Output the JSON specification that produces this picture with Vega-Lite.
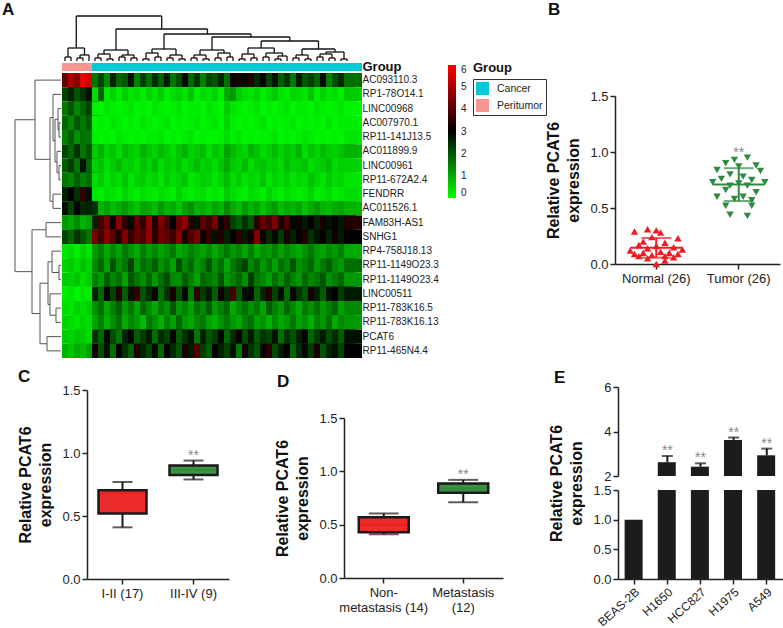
{
"$schema":"https://vega.github.io/schema/vega-lite/v6.json",
"background":"white",
"padding":{"left":2,"top":1,"right":0,"bottom":0},
"config":{
 "font":"Liberation Sans",
 "view":{"stroke":null},
 "axis":{"domainColor":"#222","domainWidth":1.5,"tickColor":"#222","tickWidth":1.5,"tickSize":5,"labelColor":"#222","labelFontSize":13,"titleColor":"#111","titleFontSize":16,"titleFontWeight":"bold","grid":false,"labelFont":"Liberation Sans","titleFont":"Liberation Sans"},
 "title":{"anchor":"start","frame":"group","offset":0,"baseline":"alphabetic","fontSize":17,"fontWeight":"bold","color":"#111"}
},
"datasets":{
"heat":[
{"g":0,"c":0,"v":4.2},{"g":0,"c":1,"v":5.0},{"g":0,"c":2,"v":4.6},{"g":0,"c":3,"v":5.8},{"g":0,"c":4,"v":5.5},{"g":0,"c":5,"v":1.6},{"g":0,"c":6,"v":2.2},{"g":0,"c":7,"v":1.4},{"g":0,"c":8,"v":2.6},{"g":0,"c":9,"v":1.8},{"g":0,"c":10,"v":2.0},{"g":0,"c":11,"v":2.8},{"g":0,"c":12,"v":1.5},{"g":0,"c":13,"v":2.3},{"g":0,"c":14,"v":1.7},{"g":0,"c":15,"v":2.5},{"g":0,"c":16,"v":1.9},{"g":0,"c":17,"v":2.7},{"g":0,"c":18,"v":1.6},{"g":0,"c":19,"v":2.1},{"g":0,"c":20,"v":2.9},{"g":0,"c":21,"v":1.8},{"g":0,"c":22,"v":2.4},{"g":0,"c":23,"v":1.5},{"g":0,"c":24,"v":2.2},{"g":0,"c":25,"v":2.0},{"g":0,"c":26,"v":2.6},{"g":0,"c":27,"v":1.7},{"g":0,"c":28,"v":3.1},{"g":0,"c":29,"v":3.3},{"g":0,"c":30,"v":2.9},{"g":0,"c":31,"v":3.4},{"g":0,"c":32,"v":2.5},{"g":0,"c":33,"v":3.0},{"g":0,"c":34,"v":2.2},{"g":0,"c":35,"v":2.8},{"g":0,"c":36,"v":1.9},{"g":0,"c":37,"v":2.4},{"g":0,"c":38,"v":1.6},{"g":0,"c":39,"v":2.7},{"g":0,"c":40,"v":2.0},{"g":0,"c":41,"v":2.3},{"g":0,"c":42,"v":1.8},{"g":0,"c":43,"v":2.9},{"g":0,"c":44,"v":1.5},{"g":0,"c":45,"v":2.1},{"g":0,"c":46,"v":2.5},{"g":0,"c":47,"v":1.7},
{"g":1,"c":0,"v":2.2},{"g":1,"c":1,"v":2.6},{"g":1,"c":2,"v":2.0},{"g":1,"c":3,"v":2.4},{"g":1,"c":4,"v":2.8},{"g":1,"c":5,"v":0.4},{"g":1,"c":6,"v":1.8},{"g":1,"c":7,"v":0.3},{"g":1,"c":8,"v":0.5},{"g":1,"c":9,"v":0.2},{"g":1,"c":10,"v":0.6},{"g":1,"c":11,"v":0.3},{"g":1,"c":12,"v":0.4},{"g":1,"c":13,"v":0.2},{"g":1,"c":14,"v":0.5},{"g":1,"c":15,"v":0.3},{"g":1,"c":16,"v":0.6},{"g":1,"c":17,"v":0.2},{"g":1,"c":18,"v":0.4},{"g":1,"c":19,"v":0.5},{"g":1,"c":20,"v":0.3},{"g":1,"c":21,"v":0.7},{"g":1,"c":22,"v":0.2},{"g":1,"c":23,"v":0.4},{"g":1,"c":24,"v":0.3},{"g":1,"c":25,"v":0.5},{"g":1,"c":26,"v":0.2},{"g":1,"c":27,"v":1.0},{"g":1,"c":28,"v":1.2},{"g":1,"c":29,"v":0.6},{"g":1,"c":30,"v":0.4},{"g":1,"c":31,"v":0.3},{"g":1,"c":32,"v":0.5},{"g":1,"c":33,"v":0.2},{"g":1,"c":34,"v":0.4},{"g":1,"c":35,"v":0.6},{"g":1,"c":36,"v":0.3},{"g":1,"c":37,"v":0.2},{"g":1,"c":38,"v":0.5},{"g":1,"c":39,"v":0.4},{"g":1,"c":40,"v":0.3},{"g":1,"c":41,"v":0.7},{"g":1,"c":42,"v":0.2},{"g":1,"c":43,"v":0.5},{"g":1,"c":44,"v":0.3},{"g":1,"c":45,"v":0.4},{"g":1,"c":46,"v":0.2},{"g":1,"c":47,"v":0.6},
{"g":2,"c":0,"v":1.6},{"g":2,"c":1,"v":2.0},{"g":2,"c":2,"v":1.4},{"g":2,"c":3,"v":1.8},{"g":2,"c":4,"v":2.2},{"g":2,"c":5,"v":0.2},{"g":2,"c":6,"v":0.1},{"g":2,"c":7,"v":0.3},{"g":2,"c":8,"v":0.2},{"g":2,"c":9,"v":0.1},{"g":2,"c":10,"v":0.2},{"g":2,"c":11,"v":0.3},{"g":2,"c":12,"v":0.1},{"g":2,"c":13,"v":0.2},{"g":2,"c":14,"v":0.1},{"g":2,"c":15,"v":0.3},{"g":2,"c":16,"v":0.2},{"g":2,"c":17,"v":0.1},{"g":2,"c":18,"v":0.2},{"g":2,"c":19,"v":0.3},{"g":2,"c":20,"v":0.1},{"g":2,"c":21,"v":0.2},{"g":2,"c":22,"v":0.2},{"g":2,"c":23,"v":0.1},{"g":2,"c":24,"v":0.3},{"g":2,"c":25,"v":0.2},{"g":2,"c":26,"v":0.1},{"g":2,"c":27,"v":0.6},{"g":2,"c":28,"v":0.3},{"g":2,"c":29,"v":0.2},{"g":2,"c":30,"v":0.1},{"g":2,"c":31,"v":0.2},{"g":2,"c":32,"v":0.3},{"g":2,"c":33,"v":0.1},{"g":2,"c":34,"v":0.2},{"g":2,"c":35,"v":0.1},{"g":2,"c":36,"v":0.2},{"g":2,"c":37,"v":0.3},{"g":2,"c":38,"v":0.1},{"g":2,"c":39,"v":0.2},{"g":2,"c":40,"v":0.2},{"g":2,"c":41,"v":0.1},{"g":2,"c":42,"v":0.3},{"g":2,"c":43,"v":0.2},{"g":2,"c":44,"v":0.1},{"g":2,"c":45,"v":0.2},{"g":2,"c":46,"v":0.3},{"g":2,"c":47,"v":0.1},
{"g":3,"c":0,"v":1.8},{"g":3,"c":1,"v":1.4},{"g":3,"c":2,"v":2.0},{"g":3,"c":3,"v":1.6},{"g":3,"c":4,"v":1.9},{"g":3,"c":5,"v":0.1},{"g":3,"c":6,"v":0.2},{"g":3,"c":7,"v":0.1},{"g":3,"c":8,"v":0.3},{"g":3,"c":9,"v":0.2},{"g":3,"c":10,"v":0.1},{"g":3,"c":11,"v":0.2},{"g":3,"c":12,"v":0.1},{"g":3,"c":13,"v":0.3},{"g":3,"c":14,"v":0.2},{"g":3,"c":15,"v":0.1},{"g":3,"c":16,"v":0.2},{"g":3,"c":17,"v":0.3},{"g":3,"c":18,"v":0.1},{"g":3,"c":19,"v":0.2},{"g":3,"c":20,"v":0.1},{"g":3,"c":21,"v":0.2},{"g":3,"c":22,"v":0.3},{"g":3,"c":23,"v":0.1},{"g":3,"c":24,"v":0.2},{"g":3,"c":25,"v":0.3},{"g":3,"c":26,"v":0.1},{"g":3,"c":27,"v":0.5},{"g":3,"c":28,"v":0.2},{"g":3,"c":29,"v":0.1},{"g":3,"c":30,"v":0.2},{"g":3,"c":31,"v":0.1},{"g":3,"c":32,"v":0.2},{"g":3,"c":33,"v":0.3},{"g":3,"c":34,"v":0.1},{"g":3,"c":35,"v":0.2},{"g":3,"c":36,"v":0.1},{"g":3,"c":37,"v":0.2},{"g":3,"c":38,"v":0.3},{"g":3,"c":39,"v":0.1},{"g":3,"c":40,"v":0.2},{"g":3,"c":41,"v":0.1},{"g":3,"c":42,"v":0.2},{"g":3,"c":43,"v":0.1},{"g":3,"c":44,"v":0.3},{"g":3,"c":45,"v":0.1},{"g":3,"c":46,"v":0.2},{"g":3,"c":47,"v":0.2},
{"g":4,"c":0,"v":1.5},{"g":4,"c":1,"v":1.9},{"g":4,"c":2,"v":1.3},{"g":4,"c":3,"v":1.7},{"g":4,"c":4,"v":1.6},{"g":4,"c":5,"v":0.2},{"g":4,"c":6,"v":0.1},{"g":4,"c":7,"v":0.2},{"g":4,"c":8,"v":0.1},{"g":4,"c":9,"v":0.3},{"g":4,"c":10,"v":0.2},{"g":4,"c":11,"v":0.1},{"g":4,"c":12,"v":0.2},{"g":4,"c":13,"v":0.1},{"g":4,"c":14,"v":0.2},{"g":4,"c":15,"v":0.2},{"g":4,"c":16,"v":0.3},{"g":4,"c":17,"v":0.1},{"g":4,"c":18,"v":0.2},{"g":4,"c":19,"v":0.1},{"g":4,"c":20,"v":0.2},{"g":4,"c":21,"v":0.3},{"g":4,"c":22,"v":0.1},{"g":4,"c":23,"v":0.2},{"g":4,"c":24,"v":0.1},{"g":4,"c":25,"v":0.1},{"g":4,"c":26,"v":0.2},{"g":4,"c":27,"v":0.4},{"g":4,"c":28,"v":0.2},{"g":4,"c":29,"v":0.3},{"g":4,"c":30,"v":0.1},{"g":4,"c":31,"v":0.2},{"g":4,"c":32,"v":0.1},{"g":4,"c":33,"v":0.2},{"g":4,"c":34,"v":0.2},{"g":4,"c":35,"v":0.3},{"g":4,"c":36,"v":0.1},{"g":4,"c":37,"v":0.2},{"g":4,"c":38,"v":0.1},{"g":4,"c":39,"v":0.2},{"g":4,"c":40,"v":0.3},{"g":4,"c":41,"v":0.2},{"g":4,"c":42,"v":0.1},{"g":4,"c":43,"v":0.2},{"g":4,"c":44,"v":0.1},{"g":4,"c":45,"v":0.2},{"g":4,"c":46,"v":0.1},{"g":4,"c":47,"v":0.3},
{"g":5,"c":0,"v":2.2},{"g":5,"c":1,"v":1.8},{"g":5,"c":2,"v":2.4},{"g":5,"c":3,"v":1.6},{"g":5,"c":4,"v":2.0},{"g":5,"c":5,"v":0.6},{"g":5,"c":6,"v":0.9},{"g":5,"c":7,"v":0.5},{"g":5,"c":8,"v":0.7},{"g":5,"c":9,"v":0.4},{"g":5,"c":10,"v":0.8},{"g":5,"c":11,"v":0.6},{"g":5,"c":12,"v":0.5},{"g":5,"c":13,"v":0.9},{"g":5,"c":14,"v":0.7},{"g":5,"c":15,"v":0.5},{"g":5,"c":16,"v":0.8},{"g":5,"c":17,"v":0.6},{"g":5,"c":18,"v":0.4},{"g":5,"c":19,"v":0.7},{"g":5,"c":20,"v":0.9},{"g":5,"c":21,"v":0.5},{"g":5,"c":22,"v":0.6},{"g":5,"c":23,"v":0.8},{"g":5,"c":24,"v":0.4},{"g":5,"c":25,"v":0.7},{"g":5,"c":26,"v":0.5},{"g":5,"c":27,"v":1.1},{"g":5,"c":28,"v":0.8},{"g":5,"c":29,"v":0.6},{"g":5,"c":30,"v":0.5},{"g":5,"c":31,"v":0.9},{"g":5,"c":32,"v":0.7},{"g":5,"c":33,"v":0.4},{"g":5,"c":34,"v":0.6},{"g":5,"c":35,"v":0.8},{"g":5,"c":36,"v":0.5},{"g":5,"c":37,"v":0.7},{"g":5,"c":38,"v":0.6},{"g":5,"c":39,"v":0.9},{"g":5,"c":40,"v":0.4},{"g":5,"c":41,"v":0.7},{"g":5,"c":42,"v":0.5},{"g":5,"c":43,"v":0.8},{"g":5,"c":44,"v":0.6},{"g":5,"c":45,"v":0.5},{"g":5,"c":46,"v":0.7},{"g":5,"c":47,"v":0.9},
{"g":6,"c":0,"v":1.9},{"g":6,"c":1,"v":2.3},{"g":6,"c":2,"v":1.6},{"g":6,"c":3,"v":2.8},{"g":6,"c":4,"v":1.8},{"g":6,"c":5,"v":0.5},{"g":6,"c":6,"v":0.7},{"g":6,"c":7,"v":0.4},{"g":6,"c":8,"v":0.6},{"g":6,"c":9,"v":0.8},{"g":6,"c":10,"v":0.5},{"g":6,"c":11,"v":0.6},{"g":6,"c":12,"v":0.4},{"g":6,"c":13,"v":0.7},{"g":6,"c":14,"v":0.5},{"g":6,"c":15,"v":0.8},{"g":6,"c":16,"v":0.4},{"g":6,"c":17,"v":0.6},{"g":6,"c":18,"v":0.5},{"g":6,"c":19,"v":0.7},{"g":6,"c":20,"v":0.4},{"g":6,"c":21,"v":0.6},{"g":6,"c":22,"v":0.8},{"g":6,"c":23,"v":0.5},{"g":6,"c":24,"v":0.6},{"g":6,"c":25,"v":0.4},{"g":6,"c":26,"v":0.7},{"g":6,"c":27,"v":1.0},{"g":6,"c":28,"v":0.6},{"g":6,"c":29,"v":0.5},{"g":6,"c":30,"v":0.8},{"g":6,"c":31,"v":0.4},{"g":6,"c":32,"v":0.6},{"g":6,"c":33,"v":0.7},{"g":6,"c":34,"v":0.5},{"g":6,"c":35,"v":0.6},{"g":6,"c":36,"v":0.4},{"g":6,"c":37,"v":0.8},{"g":6,"c":38,"v":0.5},{"g":6,"c":39,"v":0.6},{"g":6,"c":40,"v":0.7},{"g":6,"c":41,"v":0.4},{"g":6,"c":42,"v":0.5},{"g":6,"c":43,"v":0.6},{"g":6,"c":44,"v":0.8},{"g":6,"c":45,"v":0.4},{"g":6,"c":46,"v":0.6},{"g":6,"c":47,"v":0.5},
{"g":7,"c":0,"v":1.6},{"g":7,"c":1,"v":1.4},{"g":7,"c":2,"v":1.9},{"g":7,"c":3,"v":1.5},{"g":7,"c":4,"v":1.7},{"g":7,"c":5,"v":0.4},{"g":7,"c":6,"v":0.6},{"g":7,"c":7,"v":0.3},{"g":7,"c":8,"v":0.5},{"g":7,"c":9,"v":0.4},{"g":7,"c":10,"v":0.7},{"g":7,"c":11,"v":0.3},{"g":7,"c":12,"v":0.5},{"g":7,"c":13,"v":0.6},{"g":7,"c":14,"v":0.4},{"g":7,"c":15,"v":0.5},{"g":7,"c":16,"v":0.3},{"g":7,"c":17,"v":0.6},{"g":7,"c":18,"v":0.4},{"g":7,"c":19,"v":0.5},{"g":7,"c":20,"v":0.7},{"g":7,"c":21,"v":0.3},{"g":7,"c":22,"v":0.4},{"g":7,"c":23,"v":0.6},{"g":7,"c":24,"v":0.5},{"g":7,"c":25,"v":0.3},{"g":7,"c":26,"v":0.5},{"g":7,"c":27,"v":0.8},{"g":7,"c":28,"v":0.4},{"g":7,"c":29,"v":0.6},{"g":7,"c":30,"v":0.3},{"g":7,"c":31,"v":0.5},{"g":7,"c":32,"v":0.4},{"g":7,"c":33,"v":0.7},{"g":7,"c":34,"v":0.3},{"g":7,"c":35,"v":0.5},{"g":7,"c":36,"v":0.4},{"g":7,"c":37,"v":0.6},{"g":7,"c":38,"v":0.3},{"g":7,"c":39,"v":0.5},{"g":7,"c":40,"v":0.4},{"g":7,"c":41,"v":0.7},{"g":7,"c":42,"v":0.5},{"g":7,"c":43,"v":0.3},{"g":7,"c":44,"v":0.6},{"g":7,"c":45,"v":0.4},{"g":7,"c":46,"v":0.5},{"g":7,"c":47,"v":0.3},
{"g":8,"c":0,"v":2.6},{"g":8,"c":1,"v":3.0},{"g":8,"c":2,"v":2.4},{"g":8,"c":3,"v":3.6},{"g":8,"c":4,"v":2.8},{"g":8,"c":5,"v":0.3},{"g":8,"c":6,"v":0.2},{"g":8,"c":7,"v":0.4},{"g":8,"c":8,"v":0.3},{"g":8,"c":9,"v":0.2},{"g":8,"c":10,"v":0.5},{"g":8,"c":11,"v":0.3},{"g":8,"c":12,"v":0.2},{"g":8,"c":13,"v":0.4},{"g":8,"c":14,"v":0.3},{"g":8,"c":15,"v":0.2},{"g":8,"c":16,"v":0.4},{"g":8,"c":17,"v":0.3},{"g":8,"c":18,"v":0.2},{"g":8,"c":19,"v":0.5},{"g":8,"c":20,"v":0.3},{"g":8,"c":21,"v":0.2},{"g":8,"c":22,"v":0.3},{"g":8,"c":23,"v":0.4},{"g":8,"c":24,"v":0.2},{"g":8,"c":25,"v":0.3},{"g":8,"c":26,"v":0.2},{"g":8,"c":27,"v":0.6},{"g":8,"c":28,"v":0.4},{"g":8,"c":29,"v":0.3},{"g":8,"c":30,"v":0.2},{"g":8,"c":31,"v":0.4},{"g":8,"c":32,"v":0.3},{"g":8,"c":33,"v":0.2},{"g":8,"c":34,"v":0.5},{"g":8,"c":35,"v":0.3},{"g":8,"c":36,"v":0.2},{"g":8,"c":37,"v":0.4},{"g":8,"c":38,"v":0.3},{"g":8,"c":39,"v":0.2},{"g":8,"c":40,"v":0.3},{"g":8,"c":41,"v":0.5},{"g":8,"c":42,"v":0.2},{"g":8,"c":43,"v":0.3},{"g":8,"c":44,"v":0.4},{"g":8,"c":45,"v":0.2},{"g":8,"c":46,"v":0.3},{"g":8,"c":47,"v":0.4},
{"g":9,"c":0,"v":2.8},{"g":9,"c":1,"v":2.2},{"g":9,"c":2,"v":3.0},{"g":9,"c":3,"v":2.5},{"g":9,"c":4,"v":2.6},{"g":9,"c":5,"v":2.4},{"g":9,"c":6,"v":0.9},{"g":9,"c":7,"v":1.1},{"g":9,"c":8,"v":0.8},{"g":9,"c":9,"v":1.0},{"g":9,"c":10,"v":1.2},{"g":9,"c":11,"v":0.9},{"g":9,"c":12,"v":0.7},{"g":9,"c":13,"v":1.1},{"g":9,"c":14,"v":1.0},{"g":9,"c":15,"v":0.8},{"g":9,"c":16,"v":1.2},{"g":9,"c":17,"v":0.9},{"g":9,"c":18,"v":1.0},{"g":9,"c":19,"v":0.7},{"g":9,"c":20,"v":1.1},{"g":9,"c":21,"v":1.3},{"g":9,"c":22,"v":0.9},{"g":9,"c":23,"v":1.0},{"g":9,"c":24,"v":0.8},{"g":9,"c":25,"v":1.1},{"g":9,"c":26,"v":0.9},{"g":9,"c":27,"v":1.4},{"g":9,"c":28,"v":1.0},{"g":9,"c":29,"v":0.8},{"g":9,"c":30,"v":1.2},{"g":9,"c":31,"v":0.9},{"g":9,"c":32,"v":1.1},{"g":9,"c":33,"v":0.7},{"g":9,"c":34,"v":1.0},{"g":9,"c":35,"v":1.2},{"g":9,"c":36,"v":0.8},{"g":9,"c":37,"v":1.0},{"g":9,"c":38,"v":0.9},{"g":9,"c":39,"v":1.1},{"g":9,"c":40,"v":0.7},{"g":9,"c":41,"v":1.0},{"g":9,"c":42,"v":1.2},{"g":9,"c":43,"v":0.9},{"g":9,"c":44,"v":0.8},{"g":9,"c":45,"v":1.0},{"g":9,"c":46,"v":1.1},{"g":9,"c":47,"v":0.9},
{"g":10,"c":0,"v":1.2},{"g":10,"c":1,"v":1.0},{"g":10,"c":2,"v":1.4},{"g":10,"c":3,"v":0.9},{"g":10,"c":4,"v":1.1},{"g":10,"c":5,"v":2.6},{"g":10,"c":6,"v":3.8},{"g":10,"c":7,"v":4.4},{"g":10,"c":8,"v":3.2},{"g":10,"c":9,"v":4.6},{"g":10,"c":10,"v":3.5},{"g":10,"c":11,"v":2.9},{"g":10,"c":12,"v":4.2},{"g":10,"c":13,"v":3.6},{"g":10,"c":14,"v":4.8},{"g":10,"c":15,"v":3.3},{"g":10,"c":16,"v":4.5},{"g":10,"c":17,"v":3.9},{"g":10,"c":18,"v":3.0},{"g":10,"c":19,"v":4.3},{"g":10,"c":20,"v":4.7},{"g":10,"c":21,"v":3.4},{"g":10,"c":22,"v":2.8},{"g":10,"c":23,"v":4.1},{"g":10,"c":24,"v":3.7},{"g":10,"c":25,"v":4.4},{"g":10,"c":26,"v":3.1},{"g":10,"c":27,"v":3.6},{"g":10,"c":28,"v":2.2},{"g":10,"c":29,"v":1.9},{"g":10,"c":30,"v":2.4},{"g":10,"c":31,"v":2.0},{"g":10,"c":32,"v":3.5},{"g":10,"c":33,"v":4.2},{"g":10,"c":34,"v":3.8},{"g":10,"c":35,"v":4.5},{"g":10,"c":36,"v":3.3},{"g":10,"c":37,"v":3.9},{"g":10,"c":38,"v":2.9},{"g":10,"c":39,"v":3.2},{"g":10,"c":40,"v":2.7},{"g":10,"c":41,"v":3.0},{"g":10,"c":42,"v":2.6},{"g":10,"c":43,"v":3.3},{"g":10,"c":44,"v":2.8},{"g":10,"c":45,"v":3.1},{"g":10,"c":46,"v":2.7},{"g":10,"c":47,"v":3.4},
{"g":11,"c":0,"v":2.2},{"g":11,"c":1,"v":1.8},{"g":11,"c":2,"v":2.4},{"g":11,"c":3,"v":2.0},{"g":11,"c":4,"v":1.6},{"g":11,"c":5,"v":4.4},{"g":11,"c":6,"v":3.8},{"g":11,"c":7,"v":4.6},{"g":11,"c":8,"v":4.0},{"g":11,"c":9,"v":3.4},{"g":11,"c":10,"v":4.5},{"g":11,"c":11,"v":3.6},{"g":11,"c":12,"v":4.2},{"g":11,"c":13,"v":3.9},{"g":11,"c":14,"v":4.7},{"g":11,"c":15,"v":3.5},{"g":11,"c":16,"v":4.3},{"g":11,"c":17,"v":4.1},{"g":11,"c":18,"v":3.7},{"g":11,"c":19,"v":4.6},{"g":11,"c":20,"v":3.3},{"g":11,"c":21,"v":3.9},{"g":11,"c":22,"v":4.4},{"g":11,"c":23,"v":3.2},{"g":11,"c":24,"v":3.6},{"g":11,"c":25,"v":2.8},{"g":11,"c":26,"v":3.4},{"g":11,"c":27,"v":2.6},{"g":11,"c":28,"v":3.0},{"g":11,"c":29,"v":3.5},{"g":11,"c":30,"v":2.7},{"g":11,"c":31,"v":3.2},{"g":11,"c":32,"v":4.5},{"g":11,"c":33,"v":3.1},{"g":11,"c":34,"v":2.5},{"g":11,"c":35,"v":2.9},{"g":11,"c":36,"v":2.3},{"g":11,"c":37,"v":3.3},{"g":11,"c":38,"v":2.6},{"g":11,"c":39,"v":3.0},{"g":11,"c":40,"v":3.4},{"g":11,"c":41,"v":2.4},{"g":11,"c":42,"v":2.8},{"g":11,"c":43,"v":3.1},{"g":11,"c":44,"v":2.6},{"g":11,"c":45,"v":3.2},{"g":11,"c":46,"v":2.7},{"g":11,"c":47,"v":3.0},
{"g":12,"c":0,"v":0.3},{"g":12,"c":1,"v":0.4},{"g":12,"c":2,"v":0.2},{"g":12,"c":3,"v":0.5},{"g":12,"c":4,"v":0.3},{"g":12,"c":5,"v":1.2},{"g":12,"c":6,"v":1.5},{"g":12,"c":7,"v":1.0},{"g":12,"c":8,"v":1.4},{"g":12,"c":9,"v":1.1},{"g":12,"c":10,"v":1.6},{"g":12,"c":11,"v":1.3},{"g":12,"c":12,"v":1.0},{"g":12,"c":13,"v":1.5},{"g":12,"c":14,"v":1.2},{"g":12,"c":15,"v":1.4},{"g":12,"c":16,"v":1.1},{"g":12,"c":17,"v":1.3},{"g":12,"c":18,"v":1.6},{"g":12,"c":19,"v":1.0},{"g":12,"c":20,"v":1.2},{"g":12,"c":21,"v":1.5},{"g":12,"c":22,"v":1.3},{"g":12,"c":23,"v":1.1},{"g":12,"c":24,"v":1.4},{"g":12,"c":25,"v":1.0},{"g":12,"c":26,"v":1.3},{"g":12,"c":27,"v":1.6},{"g":12,"c":28,"v":1.2},{"g":12,"c":29,"v":1.4},{"g":12,"c":30,"v":1.1},{"g":12,"c":31,"v":1.5},{"g":12,"c":32,"v":1.0},{"g":12,"c":33,"v":1.3},{"g":12,"c":34,"v":1.2},{"g":12,"c":35,"v":1.5},{"g":12,"c":36,"v":1.1},{"g":12,"c":37,"v":1.4},{"g":12,"c":38,"v":1.2},{"g":12,"c":39,"v":1.0},{"g":12,"c":40,"v":1.3},{"g":12,"c":41,"v":1.6},{"g":12,"c":42,"v":1.2},{"g":12,"c":43,"v":1.1},{"g":12,"c":44,"v":1.4},{"g":12,"c":45,"v":1.2},{"g":12,"c":46,"v":1.5},{"g":12,"c":47,"v":1.0},
{"g":13,"c":0,"v":0.5},{"g":13,"c":1,"v":0.6},{"g":13,"c":2,"v":0.4},{"g":13,"c":3,"v":0.7},{"g":13,"c":4,"v":0.5},{"g":13,"c":5,"v":1.4},{"g":13,"c":6,"v":1.8},{"g":13,"c":7,"v":1.1},{"g":13,"c":8,"v":2.0},{"g":13,"c":9,"v":1.3},{"g":13,"c":10,"v":1.6},{"g":13,"c":11,"v":2.2},{"g":13,"c":12,"v":1.2},{"g":13,"c":13,"v":1.7},{"g":13,"c":14,"v":1.5},{"g":13,"c":15,"v":1.9},{"g":13,"c":16,"v":1.3},{"g":13,"c":17,"v":1.6},{"g":13,"c":18,"v":1.1},{"g":13,"c":19,"v":2.1},{"g":13,"c":20,"v":1.4},{"g":13,"c":21,"v":1.8},{"g":13,"c":22,"v":1.2},{"g":13,"c":23,"v":1.5},{"g":13,"c":24,"v":2.0},{"g":13,"c":25,"v":1.3},{"g":13,"c":26,"v":1.7},{"g":13,"c":27,"v":1.0},{"g":13,"c":28,"v":1.6},{"g":13,"c":29,"v":1.9},{"g":13,"c":30,"v":2.2},{"g":13,"c":31,"v":1.4},{"g":13,"c":32,"v":1.8},{"g":13,"c":33,"v":1.2},{"g":13,"c":34,"v":1.6},{"g":13,"c":35,"v":1.1},{"g":13,"c":36,"v":1.7},{"g":13,"c":37,"v":1.4},{"g":13,"c":38,"v":2.0},{"g":13,"c":39,"v":1.3},{"g":13,"c":40,"v":1.5},{"g":13,"c":41,"v":1.8},{"g":13,"c":42,"v":1.2},{"g":13,"c":43,"v":1.6},{"g":13,"c":44,"v":1.9},{"g":13,"c":45,"v":1.4},{"g":13,"c":46,"v":1.2},{"g":13,"c":47,"v":1.7},
{"g":14,"c":0,"v":0.6},{"g":14,"c":1,"v":0.5},{"g":14,"c":2,"v":0.7},{"g":14,"c":3,"v":0.4},{"g":14,"c":4,"v":0.6},{"g":14,"c":5,"v":1.5},{"g":14,"c":6,"v":1.2},{"g":14,"c":7,"v":1.9},{"g":14,"c":8,"v":1.4},{"g":14,"c":9,"v":1.7},{"g":14,"c":10,"v":1.1},{"g":14,"c":11,"v":2.0},{"g":14,"c":12,"v":1.6},{"g":14,"c":13,"v":1.3},{"g":14,"c":14,"v":1.8},{"g":14,"c":15,"v":1.2},{"g":14,"c":16,"v":1.7},{"g":14,"c":17,"v":2.1},{"g":14,"c":18,"v":1.4},{"g":14,"c":19,"v":1.3},{"g":14,"c":20,"v":1.9},{"g":14,"c":21,"v":1.5},{"g":14,"c":22,"v":1.1},{"g":14,"c":23,"v":1.8},{"g":14,"c":24,"v":1.6},{"g":14,"c":25,"v":1.4},{"g":14,"c":26,"v":2.0},{"g":14,"c":27,"v":1.2},{"g":14,"c":28,"v":1.5},{"g":14,"c":29,"v":1.8},{"g":14,"c":30,"v":1.3},{"g":14,"c":31,"v":2.3},{"g":14,"c":32,"v":1.6},{"g":14,"c":33,"v":1.4},{"g":14,"c":34,"v":1.1},{"g":14,"c":35,"v":1.7},{"g":14,"c":36,"v":1.3},{"g":14,"c":37,"v":1.9},{"g":14,"c":38,"v":1.5},{"g":14,"c":39,"v":1.2},{"g":14,"c":40,"v":1.8},{"g":14,"c":41,"v":1.4},{"g":14,"c":42,"v":1.6},{"g":14,"c":43,"v":2.0},{"g":14,"c":44,"v":1.3},{"g":14,"c":45,"v":1.5},{"g":14,"c":46,"v":1.8},{"g":14,"c":47,"v":1.2},
{"g":15,"c":0,"v":0.2},{"g":15,"c":1,"v":0.3},{"g":15,"c":2,"v":0.1},{"g":15,"c":3,"v":0.3},{"g":15,"c":4,"v":0.2},{"g":15,"c":5,"v":2.6},{"g":15,"c":6,"v":1.8},{"g":15,"c":7,"v":3.0},{"g":15,"c":8,"v":2.2},{"g":15,"c":9,"v":3.4},{"g":15,"c":10,"v":1.9},{"g":15,"c":11,"v":2.8},{"g":15,"c":12,"v":3.6},{"g":15,"c":13,"v":2.0},{"g":15,"c":14,"v":2.5},{"g":15,"c":15,"v":3.1},{"g":15,"c":16,"v":1.7},{"g":15,"c":17,"v":2.4},{"g":15,"c":18,"v":3.3},{"g":15,"c":19,"v":2.1},{"g":15,"c":20,"v":2.9},{"g":15,"c":21,"v":1.6},{"g":15,"c":22,"v":3.5},{"g":15,"c":23,"v":2.3},{"g":15,"c":24,"v":2.7},{"g":15,"c":25,"v":1.9},{"g":15,"c":26,"v":3.2},{"g":15,"c":27,"v":2.5},{"g":15,"c":28,"v":3.8},{"g":15,"c":29,"v":2.0},{"g":15,"c":30,"v":2.8},{"g":15,"c":31,"v":3.0},{"g":15,"c":32,"v":1.8},{"g":15,"c":33,"v":2.6},{"g":15,"c":34,"v":3.4},{"g":15,"c":35,"v":2.2},{"g":15,"c":36,"v":2.9},{"g":15,"c":37,"v":1.7},{"g":15,"c":38,"v":3.1},{"g":15,"c":39,"v":2.4},{"g":15,"c":40,"v":2.0},{"g":15,"c":41,"v":3.3},{"g":15,"c":42,"v":2.6},{"g":15,"c":43,"v":1.9},{"g":15,"c":44,"v":2.8},{"g":15,"c":45,"v":3.0},{"g":15,"c":46,"v":2.3},{"g":15,"c":47,"v":2.7},
{"g":16,"c":0,"v":0.4},{"g":16,"c":1,"v":0.3},{"g":16,"c":2,"v":0.5},{"g":16,"c":3,"v":0.4},{"g":16,"c":4,"v":0.6},{"g":16,"c":5,"v":1.3},{"g":16,"c":6,"v":1.7},{"g":16,"c":7,"v":1.0},{"g":16,"c":8,"v":1.5},{"g":16,"c":9,"v":1.9},{"g":16,"c":10,"v":1.2},{"g":16,"c":11,"v":1.6},{"g":16,"c":12,"v":1.1},{"g":16,"c":13,"v":1.8},{"g":16,"c":14,"v":1.4},{"g":16,"c":15,"v":1.0},{"g":16,"c":16,"v":1.6},{"g":16,"c":17,"v":1.3},{"g":16,"c":18,"v":2.0},{"g":16,"c":19,"v":1.2},{"g":16,"c":20,"v":1.5},{"g":16,"c":21,"v":1.1},{"g":16,"c":22,"v":1.7},{"g":16,"c":23,"v":1.4},{"g":16,"c":24,"v":1.9},{"g":16,"c":25,"v":1.2},{"g":16,"c":26,"v":1.5},{"g":16,"c":27,"v":1.8},{"g":16,"c":28,"v":1.0},{"g":16,"c":29,"v":1.4},{"g":16,"c":30,"v":1.7},{"g":16,"c":31,"v":1.3},{"g":16,"c":32,"v":1.6},{"g":16,"c":33,"v":1.1},{"g":16,"c":34,"v":1.9},{"g":16,"c":35,"v":1.5},{"g":16,"c":36,"v":1.2},{"g":16,"c":37,"v":1.8},{"g":16,"c":38,"v":1.4},{"g":16,"c":39,"v":1.0},{"g":16,"c":40,"v":1.6},{"g":16,"c":41,"v":1.3},{"g":16,"c":42,"v":1.7},{"g":16,"c":43,"v":1.2},{"g":16,"c":44,"v":1.5},{"g":16,"c":45,"v":1.8},{"g":16,"c":46,"v":1.1},{"g":16,"c":47,"v":1.4},
{"g":17,"c":0,"v":0.5},{"g":17,"c":1,"v":0.4},{"g":17,"c":2,"v":0.3},{"g":17,"c":3,"v":0.5},{"g":17,"c":4,"v":0.4},{"g":17,"c":5,"v":1.1},{"g":17,"c":6,"v":1.5},{"g":17,"c":7,"v":0.9},{"g":17,"c":8,"v":1.3},{"g":17,"c":9,"v":1.7},{"g":17,"c":10,"v":1.0},{"g":17,"c":11,"v":1.4},{"g":17,"c":12,"v":1.2},{"g":17,"c":13,"v":0.8},{"g":17,"c":14,"v":1.6},{"g":17,"c":15,"v":1.3},{"g":17,"c":16,"v":0.9},{"g":17,"c":17,"v":1.5},{"g":17,"c":18,"v":1.1},{"g":17,"c":19,"v":1.8},{"g":17,"c":20,"v":1.2},{"g":17,"c":21,"v":1.0},{"g":17,"c":22,"v":1.4},{"g":17,"c":23,"v":1.6},{"g":17,"c":24,"v":1.1},{"g":17,"c":25,"v":0.9},{"g":17,"c":26,"v":1.3},{"g":17,"c":27,"v":1.6},{"g":17,"c":28,"v":1.2},{"g":17,"c":29,"v":1.0},{"g":17,"c":30,"v":1.5},{"g":17,"c":31,"v":1.7},{"g":17,"c":32,"v":1.1},{"g":17,"c":33,"v":1.3},{"g":17,"c":34,"v":0.9},{"g":17,"c":35,"v":1.4},{"g":17,"c":36,"v":1.0},{"g":17,"c":37,"v":1.2},{"g":17,"c":38,"v":1.6},{"g":17,"c":39,"v":1.1},{"g":17,"c":40,"v":1.3},{"g":17,"c":41,"v":0.9},{"g":17,"c":42,"v":1.5},{"g":17,"c":43,"v":1.2},{"g":17,"c":44,"v":1.7},{"g":17,"c":45,"v":1.0},{"g":17,"c":46,"v":1.4},{"g":17,"c":47,"v":1.2},
{"g":18,"c":0,"v":0.6},{"g":18,"c":1,"v":0.5},{"g":18,"c":2,"v":0.7},{"g":18,"c":3,"v":0.6},{"g":18,"c":4,"v":0.4},{"g":18,"c":5,"v":2.4},{"g":18,"c":6,"v":1.8},{"g":18,"c":7,"v":2.9},{"g":18,"c":8,"v":2.1},{"g":18,"c":9,"v":1.6},{"g":18,"c":10,"v":2.6},{"g":18,"c":11,"v":3.0},{"g":18,"c":12,"v":1.9},{"g":18,"c":13,"v":2.3},{"g":18,"c":14,"v":2.7},{"g":18,"c":15,"v":1.7},{"g":18,"c":16,"v":2.5},{"g":18,"c":17,"v":2.2},{"g":18,"c":18,"v":3.1},{"g":18,"c":19,"v":1.9},{"g":18,"c":20,"v":2.4},{"g":18,"c":21,"v":2.8},{"g":18,"c":22,"v":1.6},{"g":18,"c":23,"v":2.6},{"g":18,"c":24,"v":2.0},{"g":18,"c":25,"v":2.3},{"g":18,"c":26,"v":2.9},{"g":18,"c":27,"v":1.8},{"g":18,"c":28,"v":2.5},{"g":18,"c":29,"v":3.2},{"g":18,"c":30,"v":2.1},{"g":18,"c":31,"v":2.7},{"g":18,"c":32,"v":1.9},{"g":18,"c":33,"v":2.4},{"g":18,"c":34,"v":2.2},{"g":18,"c":35,"v":2.8},{"g":18,"c":36,"v":1.7},{"g":18,"c":37,"v":2.4},{"g":18,"c":38,"v":2.0},{"g":18,"c":39,"v":2.6},{"g":18,"c":40,"v":3.0},{"g":18,"c":41,"v":1.8},{"g":18,"c":42,"v":2.3},{"g":18,"c":43,"v":2.7},{"g":18,"c":44,"v":2.1},{"g":18,"c":45,"v":2.5},{"g":18,"c":46,"v":1.9},{"g":18,"c":47,"v":2.8},
{"g":19,"c":0,"v":0.9},{"g":19,"c":1,"v":0.7},{"g":19,"c":2,"v":1.0},{"g":19,"c":3,"v":0.8},{"g":19,"c":4,"v":1.1},{"g":19,"c":5,"v":3.2},{"g":19,"c":6,"v":2.1},{"g":19,"c":7,"v":2.8},{"g":19,"c":8,"v":1.7},{"g":19,"c":9,"v":3.0},{"g":19,"c":10,"v":2.4},{"g":19,"c":11,"v":1.9},{"g":19,"c":12,"v":3.4},{"g":19,"c":13,"v":2.6},{"g":19,"c":14,"v":2.2},{"g":19,"c":15,"v":2.9},{"g":19,"c":16,"v":1.8},{"g":19,"c":17,"v":3.1},{"g":19,"c":18,"v":2.5},{"g":19,"c":19,"v":2.0},{"g":19,"c":20,"v":3.3},{"g":19,"c":21,"v":2.7},{"g":19,"c":22,"v":4.0},{"g":19,"c":23,"v":2.3},{"g":19,"c":24,"v":1.9},{"g":19,"c":25,"v":3.0},{"g":19,"c":26,"v":2.6},{"g":19,"c":27,"v":2.2},{"g":19,"c":28,"v":2.8},{"g":19,"c":29,"v":1.6},{"g":19,"c":30,"v":3.2},{"g":19,"c":31,"v":2.4},{"g":19,"c":32,"v":2.0},{"g":19,"c":33,"v":2.9},{"g":19,"c":34,"v":3.5},{"g":19,"c":35,"v":2.1},{"g":19,"c":36,"v":2.7},{"g":19,"c":37,"v":3.1},{"g":19,"c":38,"v":1.8},{"g":19,"c":39,"v":2.5},{"g":19,"c":40,"v":2.9},{"g":19,"c":41,"v":2.3},{"g":19,"c":42,"v":3.3},{"g":19,"c":43,"v":2.0},{"g":19,"c":44,"v":2.6},{"g":19,"c":45,"v":2.8},{"g":19,"c":46,"v":2.2},{"g":19,"c":47,"v":3.0}
],
"groups":[
{"c":0,"grp":"Peritumor","trk":"Group"},{"c":1,"grp":"Peritumor","trk":"Group"},{"c":2,"grp":"Peritumor","trk":"Group"},{"c":3,"grp":"Peritumor","trk":"Group"},{"c":4,"grp":"Peritumor","trk":"Group"},
{"c":5,"grp":"Cancer","trk":"Group"},{"c":6,"grp":"Cancer","trk":"Group"},{"c":7,"grp":"Cancer","trk":"Group"},{"c":8,"grp":"Cancer","trk":"Group"},{"c":9,"grp":"Cancer","trk":"Group"},{"c":10,"grp":"Cancer","trk":"Group"},{"c":11,"grp":"Cancer","trk":"Group"},{"c":12,"grp":"Cancer","trk":"Group"},{"c":13,"grp":"Cancer","trk":"Group"},{"c":14,"grp":"Cancer","trk":"Group"},{"c":15,"grp":"Cancer","trk":"Group"},{"c":16,"grp":"Cancer","trk":"Group"},{"c":17,"grp":"Cancer","trk":"Group"},{"c":18,"grp":"Cancer","trk":"Group"},{"c":19,"grp":"Cancer","trk":"Group"},{"c":20,"grp":"Cancer","trk":"Group"},{"c":21,"grp":"Cancer","trk":"Group"},{"c":22,"grp":"Cancer","trk":"Group"},{"c":23,"grp":"Cancer","trk":"Group"},{"c":24,"grp":"Cancer","trk":"Group"},{"c":25,"grp":"Cancer","trk":"Group"},{"c":26,"grp":"Cancer","trk":"Group"},{"c":27,"grp":"Cancer","trk":"Group"},{"c":28,"grp":"Cancer","trk":"Group"},{"c":29,"grp":"Cancer","trk":"Group"},{"c":30,"grp":"Cancer","trk":"Group"},{"c":31,"grp":"Cancer","trk":"Group"},{"c":32,"grp":"Cancer","trk":"Group"},{"c":33,"grp":"Cancer","trk":"Group"},{"c":34,"grp":"Cancer","trk":"Group"},{"c":35,"grp":"Cancer","trk":"Group"},{"c":36,"grp":"Cancer","trk":"Group"},{"c":37,"grp":"Cancer","trk":"Group"},{"c":38,"grp":"Cancer","trk":"Group"},{"c":39,"grp":"Cancer","trk":"Group"},{"c":40,"grp":"Cancer","trk":"Group"},{"c":41,"grp":"Cancer","trk":"Group"},{"c":42,"grp":"Cancer","trk":"Group"},{"c":43,"grp":"Cancer","trk":"Group"},{"c":44,"grp":"Cancer","trk":"Group"},{"c":45,"grp":"Cancer","trk":"Group"},{"c":46,"grp":"Cancer","trk":"Group"},{"c":47,"grp":"Cancer","trk":"Group"}
],
"rowtree":[
{"y1":3.5,"h1":0,"y2":4.5,"h2":0,"h":2},{"y1":2.5,"h1":0,"y2":4.0,"h2":2,"h":3},{"y1":6.5,"h1":0,"y2":7.5,"h2":0,"h":2},{"y1":5.5,"h1":0,"y2":7.0,"h2":2,"h":4},{"y1":3.25,"h1":3,"y2":6.25,"h2":4,"h":6},{"y1":1.5,"h1":0,"y2":4.75,"h2":6,"h":8},{"y1":8.5,"h1":0,"y2":9.5,"h2":0,"h":8},{"y1":3.125,"h1":8,"y2":9.0,"h2":8,"h":11},{"y1":0.5,"h1":0,"y2":6.06,"h2":11,"h":26},
{"y1":10.5,"h1":0,"y2":11.5,"h2":0,"h":15},{"y1":13.5,"h1":0,"y2":14.5,"h2":0,"h":2},{"y1":12.5,"h1":0,"y2":14.0,"h2":2,"h":9},{"y1":16.5,"h1":0,"y2":17.5,"h2":0,"h":5},{"y1":15.5,"h1":0,"y2":17.0,"h2":5,"h":11},{"y1":13.25,"h1":9,"y2":16.25,"h2":11,"h":13},{"y1":18.5,"h1":0,"y2":19.5,"h2":0,"h":14},{"y1":14.75,"h1":13,"y2":19.0,"h2":14,"h":21},{"y1":11.0,"h1":15,"y2":16.88,"h2":21,"h":29},{"y1":3.28,"h1":26,"y2":13.94,"h2":29,"h":46}
],
"coltree":[
{"x1":0.5,"h1":0,"x2":1.5,"h2":0,"h":4},{"x1":2.5,"h1":0,"x2":3.5,"h2":0,"h":3},{"x1":3.0,"h1":3,"x2":4.5,"h2":0,"h":6},{"x1":1.0,"h1":4,"x2":3.75,"h2":6,"h":13},
{"x1":5.5,"h1":0,"x2":6.5,"h2":0,"h":3},{"x1":7.5,"h1":0,"x2":8.5,"h2":0,"h":2},{"x1":9.5,"h1":0,"x2":10.5,"h2":0,"h":4},{"x1":11.5,"h1":0,"x2":12.5,"h2":0,"h":3},{"x1":6,"h1":3,"x2":8,"h2":2,"h":7},{"x1":10,"h1":4,"x2":12,"h2":3,"h":6},{"x1":7,"h1":7,"x2":11,"h2":6,"h":11},
{"x1":13.5,"h1":0,"x2":14.5,"h2":0,"h":2},{"x1":15.5,"h1":0,"x2":16.5,"h2":0,"h":4},{"x1":17.5,"h1":0,"x2":18.5,"h2":0,"h":3},{"x1":19.5,"h1":0,"x2":20.5,"h2":0,"h":2},{"x1":14,"h1":2,"x2":16,"h2":4,"h":8},{"x1":18,"h1":3,"x2":20,"h2":2,"h":6},{"x1":15,"h1":8,"x2":19,"h2":6,"h":12},
{"x1":21.5,"h1":0,"x2":22.5,"h2":0,"h":3},{"x1":23.5,"h1":0,"x2":24.5,"h2":0,"h":2},{"x1":25.5,"h1":0,"x2":26.5,"h2":0,"h":3},{"x1":27.5,"h1":0,"x2":28.5,"h2":0,"h":4},{"x1":22,"h1":3,"x2":24,"h2":2,"h":6},{"x1":26,"h1":3,"x2":28,"h2":4,"h":8},{"x1":23,"h1":6,"x2":27,"h2":8,"h":11},
{"x1":29.5,"h1":0,"x2":30.5,"h2":0,"h":2},{"x1":31.5,"h1":0,"x2":32.5,"h2":0,"h":3},{"x1":33.5,"h1":0,"x2":34.5,"h2":0,"h":4},{"x1":35.5,"h1":0,"x2":36.5,"h2":0,"h":2},{"x1":36,"h1":2,"x2":37.5,"h2":0,"h":5},{"x1":30,"h1":2,"x2":32,"h2":3,"h":7},{"x1":34,"h1":4,"x2":36.75,"h2":5,"h":8},{"x1":31,"h1":7,"x2":35.38,"h2":8,"h":13},
{"x1":38.5,"h1":0,"x2":39.5,"h2":0,"h":3},{"x1":40.5,"h1":0,"x2":41.5,"h2":0,"h":2},{"x1":42.5,"h1":0,"x2":43.5,"h2":0,"h":4},{"x1":44.5,"h1":0,"x2":45.5,"h2":0,"h":3},{"x1":46.5,"h1":0,"x2":47.5,"h2":0,"h":2},{"x1":39,"h1":3,"x2":41,"h2":2,"h":6},{"x1":43,"h1":4,"x2":45,"h2":3,"h":7},{"x1":44,"h1":7,"x2":47,"h2":2,"h":9},{"x1":40,"h1":6,"x2":45.5,"h2":9,"h":12},
{"x1":33.19,"h1":13,"x2":42.75,"h2":12,"h":20},{"x1":25,"h1":11,"x2":37.97,"h2":20,"h":24},{"x1":17,"h1":12,"x2":31.49,"h2":24,"h":27},{"x1":9,"h1":11,"x2":24.24,"h2":27,"h":32},{"x1":2.38,"h1":13,"x2":16.62,"h2":32,"h":45}
],
"scatter":[
{"grp":"Normal (26)","v":0.31,"j":-2},{"grp":"Normal (26)","v":0.29,"j":-5},{"grp":"Normal (26)","v":0.30,"j":0},{"grp":"Normal (26)","v":0.28,"j":1},{"grp":"Normal (26)","v":0.23,"j":5},{"grp":"Normal (26)","v":0.24,"j":-1},
{"grp":"Normal (26)","v":0.20,"j":-3},{"grp":"Normal (26)","v":0.19,"j":2},{"grp":"Normal (26)","v":0.17,"j":-4},{"grp":"Normal (26)","v":0.16,"j":0},{"grp":"Normal (26)","v":0.15,"j":4},{"grp":"Normal (26)","v":0.14,"j":-2},{"grp":"Normal (26)","v":0.13,"j":6},
{"grp":"Normal (26)","v":0.12,"j":-6},{"grp":"Normal (26)","v":0.11,"j":1},{"grp":"Normal (26)","v":0.10,"j":-3},{"grp":"Normal (26)","v":0.10,"j":3},{"grp":"Normal (26)","v":0.09,"j":-5},{"grp":"Normal (26)","v":0.09,"j":5},{"grp":"Normal (26)","v":0.08,"j":-1},
{"grp":"Normal (26)","v":0.07,"j":2},{"grp":"Normal (26)","v":0.07,"j":-4},{"grp":"Normal (26)","v":0.06,"j":4},{"grp":"Normal (26)","v":0.05,"j":-2},{"grp":"Normal (26)","v":0.03,"j":2},{"grp":"Normal (26)","v":0.00,"j":0},
{"grp":"Tumor (26)","v":0.95,"j":2},{"grp":"Tumor (26)","v":0.93,"j":-1},{"grp":"Tumor (26)","v":0.90,"j":-3},{"grp":"Tumor (26)","v":0.88,"j":4},{"grp":"Tumor (26)","v":0.87,"j":0},
{"grp":"Tumor (26)","v":0.84,"j":-5},{"grp":"Tumor (26)","v":0.83,"j":5},{"grp":"Tumor (26)","v":0.80,"j":-2},{"grp":"Tumor (26)","v":0.78,"j":1},
{"grp":"Tumor (26)","v":0.76,"j":-4},{"grp":"Tumor (26)","v":0.75,"j":3},{"grp":"Tumor (26)","v":0.73,"j":-6},{"grp":"Tumor (26)","v":0.73,"j":6},{"grp":"Tumor (26)","v":0.72,"j":0},{"grp":"Tumor (26)","v":0.70,"j":-2},{"grp":"Tumor (26)","v":0.70,"j":2},
{"grp":"Tumor (26)","v":0.66,"j":-3},{"grp":"Tumor (26)","v":0.64,"j":4},{"grp":"Tumor (26)","v":0.60,"j":-5},{"grp":"Tumor (26)","v":0.60,"j":1},{"grp":"Tumor (26)","v":0.58,"j":-1},{"grp":"Tumor (26)","v":0.57,"j":3},
{"grp":"Tumor (26)","v":0.52,"j":-3},{"grp":"Tumor (26)","v":0.52,"j":3},{"grp":"Tumor (26)","v":0.44,"j":-2},{"grp":"Tumor (26)","v":0.43,"j":2}
],
"boxC":[
{"grp":"I-II (17)","lo":0.41,"q1":0.52,"med":0.68,"q3":0.705,"hi":0.77,"sig":""},
{"grp":"III-IV (9)","lo":0.79,"q1":0.825,"med":0.865,"q3":0.90,"hi":0.94,"sig":"**"}
],
"boxD":[
{"grp":"Non-metastasis (14)","lo":0.41,"q1":0.43,"med":0.50,"q3":0.57,"hi":0.605,"sig":""},
{"grp":"Metastasis (12)","lo":0.71,"q1":0.80,"med":0.84,"q3":0.885,"hi":0.92,"sig":"**"}
],
"cells":[
{"cell":"BEAS-2B","m":1.0,"e":1.0,"sig":""},
{"cell":"H1650","m":2.62,"e":2.9,"sig":"**"},
{"cell":"HCC827","m":2.42,"e":2.57,"sig":"**"},
{"cell":"H1975","m":3.62,"e":3.73,"sig":"**"},
{"cell":"A549","m":2.93,"e":3.23,"sig":"**"}
]
},
"spacing":10,
"vconcat":[
{
 "spacing":-2,
 "hconcat":[
  {
   "spacing":0,
   "hconcat":[
    {
     "width":46,"height":343,
     "title":{"text":"A","dx":-13,"dy":8},
     "data":{"name":"rowtree"},
     "layer":[
      {"mark":{"type":"rule","color":"#555","strokeWidth":1},
       "encoding":{"x":{"field":"h","type":"quantitative","scale":{"domain":[0,46],"reverse":true,"nice":false,"zero":false},"axis":null},
                   "y":{"field":"y1","type":"quantitative","scale":{"domain":[-4.07,20],"reverse":true,"nice":false,"zero":false},"axis":null},
                   "y2":{"field":"y2"}}},
      {"mark":{"type":"rule","color":"#555","strokeWidth":1},
       "encoding":{"x":{"field":"h1","type":"quantitative","axis":null},"x2":{"field":"h"},
                   "y":{"field":"y1","type":"quantitative","axis":null}}},
      {"mark":{"type":"rule","color":"#555","strokeWidth":1},
       "encoding":{"x":{"field":"h2","type":"quantitative","axis":null},"x2":{"field":"h"},
                   "y":{"field":"y2","type":"quantitative","axis":null}}}
     ]
    },
    {
     "spacing":2,"bounds":"flush",
     "vconcat":[
      {
       "width":288,"height":46,
       "data":{"name":"coltree"},
       "layer":[
        {"mark":{"type":"rule","color":"#111","strokeWidth":1.3},
         "encoding":{"x":{"field":"x1","type":"quantitative","scale":{"domain":[0,48],"nice":false,"zero":false},"axis":null},"x2":{"field":"x2"},
                     "y":{"field":"h","type":"quantitative","scale":{"domain":[0,46],"nice":false},"axis":null}}},
        {"mark":{"type":"rule","color":"#111","strokeWidth":1.3},
         "encoding":{"x":{"field":"x1","type":"quantitative","axis":null},
                     "y":{"field":"h1","type":"quantitative","axis":null},"y2":{"field":"h"}}},
        {"mark":{"type":"rule","color":"#111","strokeWidth":1.3},
         "encoding":{"x":{"field":"x2","type":"quantitative","axis":null},
                     "y":{"field":"h2","type":"quantitative","axis":null},"y2":{"field":"h"}}}
       ]
      },
      {
       "width":288,"height":8,
       "title":{"text":"Group","fontSize":13,"dx":411,"dy":18},
       "data":{"name":"groups"},
       "mark":{"type":"rect"},
       "encoding":{
        "x":{"field":"c","type":"ordinal","axis":null},
        "y":{"field":"trk","type":"nominal","axis":{"orient":"right","title":null,"domain":false,"ticks":false,"labelFontSize":13,"labelFontWeight":"bold","labelPadding":12,"labelColor":"#111","zindex":1}},
        "color":{"field":"grp","type":"nominal","scale":{"domain":["Cancer","Peritumor"],"range":["#00C9D2","#F8958F"]},
                 "legend":{"orient":"none","legendX":411,"legendY":16,"title":null,"padding":3,"strokeColor":"#333","symbolType":"square","symbolSize":169,"symbolStrokeWidth":0,"labelFontSize":10.5,"labelColor":"#222","labelOffset":8,"rowPadding":4}}
       }
      },
      {
       "width":288,"height":285,
       "data":{"name":"heat"},
       "mark":{"type":"rect"},
       "encoding":{
        "x":{"field":"c","type":"ordinal","axis":null},
        "y":{"field":"g","type":"ordinal","axis":{"orient":"right","title":null,"domain":false,"ticks":false,"labelFontSize":10,"labelPadding":12,"labelColor":"#222","zindex":1,
             "labelExpr":"['AC093110.3','RP1-78O14.1','LINC00968','AC007970.1','RP11-141J13.5','AC011899.9','LINC00961','RP11-672A2.4','FENDRR','AC011526.1','FAM83H-AS1','SNHG1','RP4-758J18.13','RP11-1149O23.3','RP11-1149O23.4','LINC00511','RP11-783K16.5','RP11-783K16.13','PCAT6','RP11-465N4.4'][datum.value]"}},
        "color":{"field":"v","type":"quantitative","scale":{"domain":[0,3,6],"range":["#00ff00","#000000","#ff0000"],"interpolate":"rgb"},
                 "legend":{"orient":"none","legendX":386,"legendY":-8,"title":null,"direction":"vertical","gradientLength":133,"gradientThickness":8,"gradientStrokeWidth":0,"values":[0,1,2,3,4,5,6],"labelFontSize":10,"labelOffset":5,"labelColor":"#222"}}
       }
      }
     ]
    }
   ]
  },
  {
   "spacing":0,"bounds":"flush",
   "vconcat":[
    {"width":165,"height":81,"title":{"text":"B","dx":-67,"dy":8},"data":{"values":[]},"mark":"text","encoding":{}},
    {
     "width":165,"height":168,
     "data":{"name":"scatter"},
     "encoding":{"x":{"field":"grp","type":"nominal","sort":null,"title":null,"scale":{"paddingInner":0,"paddingOuter":0},"axis":{"labelAngle":0,"labelPadding":3}}},
     "layer":[
      {"mark":{"type":"point","filled":true,"size":55,"opacity":1,"strokeWidth":0},
       "encoding":{
        "y":{"field":"v","type":"quantitative","title":["Relative PCAT6","expression"],"scale":{"domain":[0,1.5],"nice":false},"axis":{"values":[0,0.5,1,1.5],"format":".1f","titlePadding":8,"titleLineHeight":20}},
        "xOffset":{"field":"j","type":"ordinal","scale":{"domain":[-9,-8,-7,-6,-5,-4,-3,-2,-1,0,1,2,3,4,5,6,7,8,9]}},
        "shape":{"field":"grp","type":"nominal","scale":{"domain":["Normal (26)","Tumor (26)"],"range":["triangle-up","triangle-down"]},"legend":null},
        "color":{"field":"grp","type":"nominal","scale":{"domain":["Normal (26)","Tumor (26)"],"range":["#EE1D23","#2D8A3E"]},"legend":null}}},
      {"mark":{"type":"errorbar","extent":"stdev","thickness":2,"ticks":{"size":30}},
       "encoding":{"y":{"field":"v","type":"quantitative","title":["Relative PCAT6","expression"]},"color":{"field":"grp","type":"nominal","legend":null}}},
      {"mark":{"type":"tick","size":52,"thickness":2},
       "encoding":{"y":{"aggregate":"mean","field":"v","type":"quantitative","title":["Relative PCAT6","expression"]},"color":{"field":"grp","type":"nominal","legend":null}}},
      {"transform":[{"filter":"datum.grp == 'Tumor (26)'"}],
       "mark":{"type":"text","text":"**","baseline":"alphabetic","dy":-1,"fontSize":14,"color":"#8a8a8a"},
       "encoding":{"y":{"aggregate":"max","field":"v","type":"quantitative","title":["Relative PCAT6","expression"]}}}
     ]
    }
   ]
  }
 ]
},
{
 "spacing":0,
 "hconcat":[
  {"width":2,"height":1,"data":{"values":[]},"mark":"text","encoding":{}},
  {
   "spacing":45,
   "hconcat":[
    {
     "spacing":0,"bounds":"flush",
     "vconcat":[
      {"width":142,"height":3,"title":{"text":"C","dx":-69,"dy":3},"data":{"values":[]},"mark":"text","encoding":{}},
      {
       "width":142,"height":189,
       "data":{"name":"boxC"},
       "encoding":{"x":{"field":"grp","type":"nominal","sort":null,"title":null,"scale":{"paddingInner":0,"paddingOuter":0},"axis":{"labelAngle":0,"labelPadding":3}}},
       "layer":[
        {"mark":{"type":"rule","color":"#1a1a1a","strokeWidth":2},
         "encoding":{"y":{"field":"lo","type":"quantitative","title":["Relative PCAT6","expression"],"scale":{"domain":[0,1.5],"nice":false},"axis":{"values":[0,0.5,1,1.5],"format":".1f","titlePadding":8,"titleLineHeight":20}},"y2":{"field":"hi"}}},
        {"mark":{"type":"tick","size":20,"thickness":2,"color":"#1a1a1a"},
         "encoding":{"y":{"field":"lo","type":"quantitative","title":["Relative PCAT6","expression"]}}},
        {"mark":{"type":"tick","size":20,"thickness":2,"color":"#1a1a1a"},
         "encoding":{"y":{"field":"hi","type":"quantitative","title":["Relative PCAT6","expression"]}}},
        {"mark":{"type":"bar","width":48,"stroke":"#1a1a1a","strokeWidth":2.5},
         "encoding":{"y":{"field":"q1","type":"quantitative","title":["Relative PCAT6","expression"]},"y2":{"field":"q3"},
                     "fill":{"field":"grp","type":"nominal","scale":{"domain":["I-II (17)","III-IV (9)"],"range":["#EC2B2B","#3F8F45"]},"legend":null}}},
        {"mark":{"type":"tick","size":45,"thickness":1.5},
         "encoding":{"y":{"field":"med","type":"quantitative","title":["Relative PCAT6","expression"]},
                     "color":{"field":"grp","type":"nominal","scale":{"domain":["I-II (17)","III-IV (9)"],"range":["#8E1515","#1F5F25"]},"legend":null}}},
        {"mark":{"type":"text","baseline":"alphabetic","dy":-1,"fontSize":14,"color":"#8a8a8a"},
         "encoding":{"y":{"field":"hi","type":"quantitative","title":["Relative PCAT6","expression"]},"text":{"field":"sig"}}}
       ]
      }
     ]
    },
    {
     "spacing":0,"bounds":"flush",
     "vconcat":[
      {"width":159,"height":31,"title":{"text":"D","dx":-67,"dy":8},"data":{"values":[]},"mark":"text","encoding":{}},
      {
       "width":159,"height":160,
       "data":{"name":"boxD"},
       "encoding":{"x":{"field":"grp","type":"nominal","sort":null,"title":null,"scale":{"paddingInner":0,"paddingOuter":0},
                        "axis":{"labelAngle":0,"labelPadding":3,"labelLineHeight":15,"labelExpr":"datum.value == 'Non-metastasis (14)' ? ['Non-', 'metastasis (14)'] : ['Metastasis', '(12)']"}}},
       "layer":[
        {"mark":{"type":"rule","color":"#1a1a1a","strokeWidth":2},
         "encoding":{"y":{"field":"lo","type":"quantitative","title":["Relative PCAT6","expression"],"scale":{"domain":[0,1.5],"nice":false},"axis":{"values":[0,0.5,1,1.5],"format":".1f","titlePadding":8,"titleLineHeight":20}},"y2":{"field":"hi"}}},
        {"mark":{"type":"tick","size":30,"thickness":2,"color":"#1a1a1a"},
         "encoding":{"y":{"field":"lo","type":"quantitative","title":["Relative PCAT6","expression"]}}},
        {"mark":{"type":"tick","size":30,"thickness":2,"color":"#1a1a1a"},
         "encoding":{"y":{"field":"hi","type":"quantitative","title":["Relative PCAT6","expression"]}}},
        {"mark":{"type":"bar","width":50,"stroke":"#1a1a1a","strokeWidth":2.5},
         "encoding":{"y":{"field":"q1","type":"quantitative","title":["Relative PCAT6","expression"]},"y2":{"field":"q3"},
                     "fill":{"field":"grp","type":"nominal","scale":{"domain":["Non-metastasis (14)","Metastasis (12)"],"range":["#EC2B2B","#3F8F45"]},"legend":null}}},
        {"mark":{"type":"tick","size":47,"thickness":1.5},
         "encoding":{"y":{"field":"med","type":"quantitative","title":["Relative PCAT6","expression"]},
                     "color":{"field":"grp","type":"nominal","scale":{"domain":["Non-metastasis (14)","Metastasis (12)"],"range":["#8E1515","#1F5F25"]},"legend":null}}},
        {"mark":{"type":"text","baseline":"alphabetic","dy":-1,"fontSize":14,"color":"#8a8a8a"},
         "encoding":{"y":{"field":"hi","type":"quantitative","title":["Relative PCAT6","expression"]},"text":{"field":"sig"}}}
       ]
      }
     ]
    },
    {
     "spacing":14,"bounds":"flush",
     "vconcat":[
      {
       "width":165,"height":89,
       "title":{"text":"E","dx":-64,"dy":10},
       "data":{"name":"cells"},
       "encoding":{"x":{"field":"cell","type":"nominal","sort":null,"title":null,"scale":{"paddingInner":0.42,"paddingOuter":0.2},"axis":null}},
       "layer":[
        {"mark":{"type":"bar","color":"#1c1c1c","clip":true},
         "encoding":{"y":{"field":"m","type":"quantitative","title":null,"scale":{"domain":[2,6],"nice":false,"zero":false},"axis":{"values":[2,4,6],"format":"d"}},"y2":{"datum":2}}},
        {"mark":{"type":"rule","color":"#1c1c1c","strokeWidth":2,"clip":true},
         "encoding":{"y":{"field":"m","type":"quantitative","title":null},"y2":{"field":"e"}}},
        {"mark":{"type":"tick","size":11,"thickness":2,"color":"#1c1c1c","clip":true},
         "encoding":{"y":{"field":"e","type":"quantitative","title":null}}},
        {"mark":{"type":"text","baseline":"alphabetic","dy":-1,"fontSize":14,"color":"#8a8a8a"},
         "encoding":{"y":{"field":"e","type":"quantitative","title":null},"text":{"field":"sig"}}}
       ]
      },
      {
       "width":165,"height":89,
       "data":{"name":"cells"},
       "mark":{"type":"bar","color":"#1c1c1c","clip":true},
       "encoding":{
        "x":{"field":"cell","type":"nominal","sort":null,"title":null,"scale":{"paddingInner":0.42,"paddingOuter":0.2},"axis":{"labelAngle":-42,"labelPadding":2,"labelFontSize":12}},
        "y":{"field":"m","type":"quantitative","title":["Relative PCAT6","expression"],"scale":{"domain":[0,1.5],"nice":false},"axis":{"values":[0,0.5,1,1.5],"format":".1f","titlePadding":8,"titleLineHeight":20,"titleY":-7}}
       }
      }
     ]
    }
   ]
  }
 ]
}
]
}
